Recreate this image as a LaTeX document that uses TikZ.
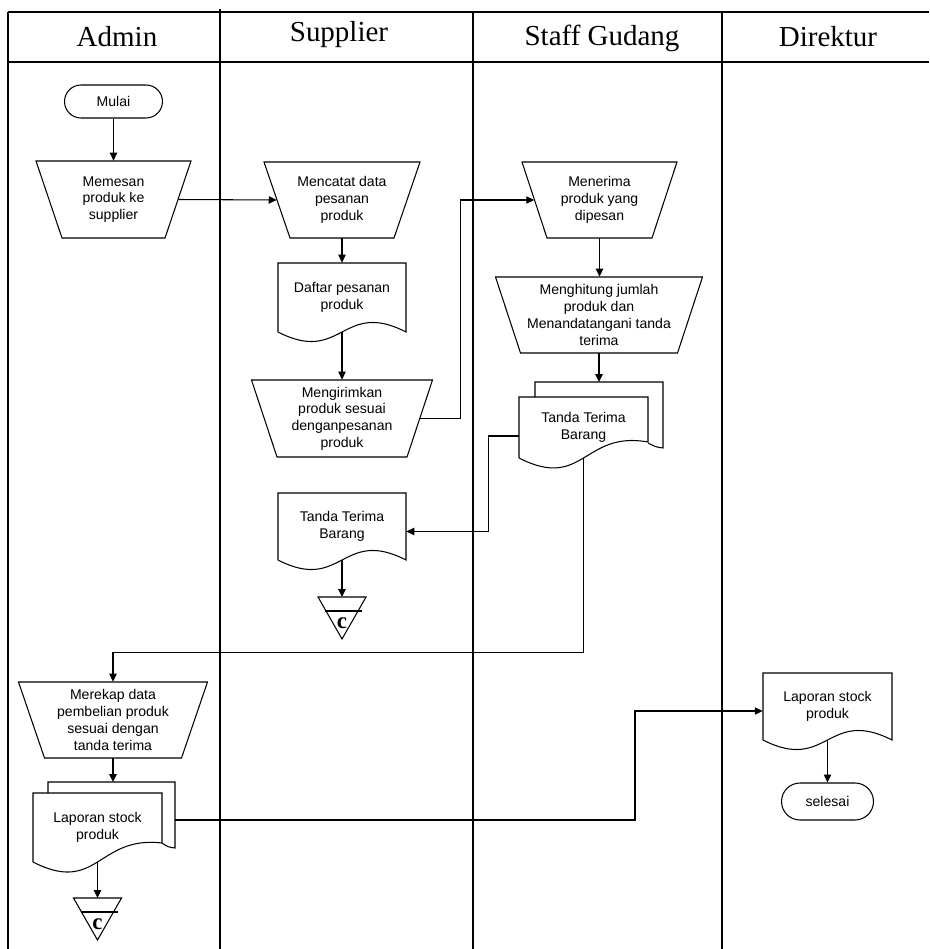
\documentclass[tikz,border=0pt]{standalone}
\usepackage{fontspec}
\setmainfont{Liberation Serif}
\setsansfont{Liberation Sans}
\usetikzlibrary{arrows.meta}
% #1 name, #2 cx, #3 ytop, #4 ybot, #5 half top width, #6 half bottom width, #7 text
\newcommand{\mkTrap}[7]{%
  \draw[shp] ({#2-#5},#3) -- ({#2+#5},#3) -- ({#2+#6},#4) -- ({#2-#6},#4) -- cycle;
  \node[txt, minimum width={(#5+#6)*0.02cm}, minimum height={(#4-#3)*0.02cm}] (#1) at (#2,{(#3+#4)/2}) {#7};}
% #1 name, #2 x0, #3 ytop, #4 x1, #5 y left end, #6 y right end, #7 text
\newcommand{\mkDoc}[7]{%
  \draw[shp] (#2,#5) -- (#2,#3) -- (#4,#3) -- (#4,#6)
    .. controls ({(#2+#4)/2},{#5-(#6-#5)/3-33}) and ({(#2+#4)/2},{#5+33}) .. (#2,#5);
  \node[txt, minimum width={(#4-#2)*0.02cm}, minimum height={(#5-#3)*0.02cm}] (#1) at ({(#2+#4)/2},{(#3+#5)/2}) {#7};}
% #1 name, #2 cx, #3 ytop, #4 yapex
\newcommand{\mkOff}[4]{%
  \coordinate (#1top) at (#2,#3);
  \draw[shp] ({#2-24},#3) -- ({#2+24},#3) -- (#2,#4) -- cycle;
  \draw[shp] ({#2-17},{#3+14}) -- ({#2+20},{#3+14});
  \node[cfont] (#1) at (#2,{#3+26}) {c};}
\begin{document}
\begin{tikzpicture}[x=0.02cm,y=-0.02cm,
  frame/.style={line width=0.8pt},
  shp/.style={line width=0.6pt},
  arr/.style={line width=0.6pt,-{Triangle[length=4.5pt,width=4.2pt]}},
  con/.style={line width=0.6pt},
  txt/.style={inner sep=0pt, align=center, font=\sffamily\fontsize{8}{9.5}\selectfont},
  hdr/.style={inner sep=0pt, font=\fontsize{16.5}{18}\selectfont},
  term/.style={txt, draw, line width=0.6pt},
  cfont/.style={inner sep=0pt, font=\bfseries\fontsize{13}{13}\selectfont}
]
\useasboundingbox (0,0) rectangle (929,949);

% swimlane frame
\draw[frame] (8,12) -- (929,12);
\draw[frame] (8,62) -- (929,62);
\draw[frame] (8,12) -- (8,949);
\draw[frame] (220,9) -- (220,949);
\draw[frame] (473,12) -- (473,949);
\draw[frame] (722,12) -- (722,949);

% headers
\node[hdr] (hAdmin) at (117,37) {Admin};
\node[hdr] (hSupplier) at (339,35) {Supplier};
\node[hdr] (hStaff) at (602,38) {Staff Gudang};
\node[hdr] (hDirektur) at (828,37) {Direktur};

% Admin lane
\node[term, rounded corners=0.33cm, minimum width=1.96cm, minimum height=0.66cm] (mulai) at (113.5,101.5) {Mulai};
\mkTrap{memesan}{113.5}{161}{238}{77.5}{51.5}{Memesan\\produk ke\\supplier}
\mkTrap{merekap}{113}{682}{758}{94.5}{68.5}{Merekap data\\pembelian produk\\sesuai dengan\\tanda terima}
\coordinate (lapBackTop) at (113,782);
\coordinate (lapBackE) at (175,820);
\draw[shp] (48,793) -- (48,782) -- (175,782) -- (175,848) .. controls (168,847) .. (162,843);
\mkDoc{lapF}{33}{793}{162}{862}{843}{Laporan stock\\produk}
\mkOff{offA}{97.5}{898}{940}

% Supplier lane
\mkTrap{mencatat}{342}{162}{238}{78}{52}{Mencatat data\\pesanan\\produk}
\mkDoc{daftar}{278}{263}{406}{332}{332}{Daftar pesanan\\produk}
\mkTrap{mengirim}{342}{380}{457}{90.5}{65}{Mengirimkan\\produk sesuai\\denganpesanan\\produk}
\mkDoc{tts}{278}{493}{406}{560}{560}{Tanda Terima\\Barang}
\mkOff{offS}{342}{597}{639}

% Staff Gudang lane
\mkTrap{menerima}{599.5}{162}{238}{77.5}{52.5}{Menerima\\produk yang\\dipesan}
\mkTrap{menghitung}{599}{277}{353}{103.5}{78.5}{Menghitung jumlah\\produk dan\\Menandatangani tanda\\terima}
\coordinate (ttbBackTop) at (599,382);
\draw[shp] (535,397) -- (535,382) -- (663,382) -- (663,448) .. controls (656,447) .. (648,443);
\mkDoc{ttbF}{519}{397}{648}{458}{442}{Tanda Terima\\Barang}

% Direktur lane
\mkDoc{dlap}{763}{673}{892}{740}{740}{Laporan stock\\produk}
\node[term, rounded corners=0.37cm, minimum width=1.84cm, minimum height=0.74cm] (selesai) at (827.5,801.5) {selesai};

% connectors
\draw[arr] (mulai.south) -- (memesan.north);
\draw[arr] (memesan.east) -- (mencatat.west);
\draw[arr] (mencatat.south) -- (daftar.north);
\draw[arr] (daftar.south) -- (mengirim.north);
\draw[arr] (mengirim.east) -- ++(40,0) |- (menerima.west);
\draw[arr] (menerima.south) -- (menerima.south |- menghitung.north);
\draw[arr] (menghitung.south) -- (ttbBackTop);
\draw[arr] ([yshift=-0.17cm]ttbF.west) -- ++(-30,0) |- ([yshift=-0.1cm]tts.east);
\draw[arr] (tts.south) -- (offStop);
\draw[arr] (ttbF.south) -- ++(0,194) -| (merekap.north);
\draw[arr] (merekap.south) -- (lapBackTop);
\draw[arr] (lapBackE) -- ++(460,0) |- ([yshift=-0.09cm]dlap.west);
\draw[arr] (lapF.south) -- (offAtop);
\draw[arr] (dlap.south) -- (selesai.north);
\end{tikzpicture}
\end{document}
